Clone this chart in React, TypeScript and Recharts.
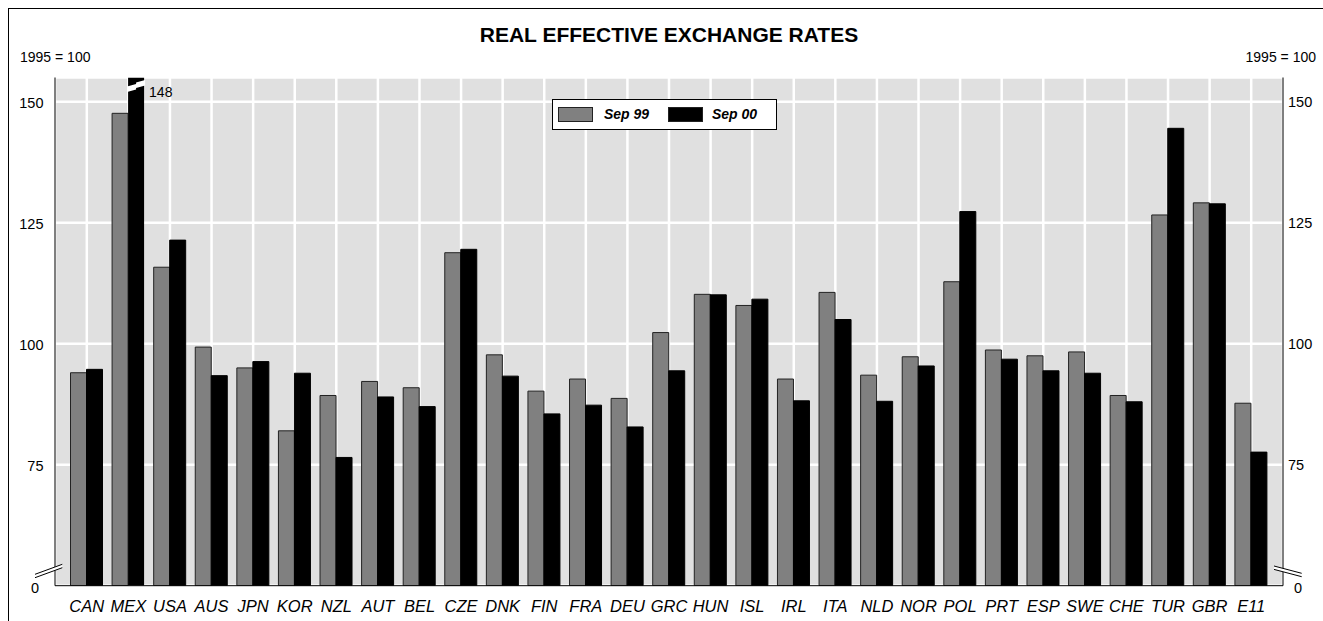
import { Bar, BarChart, CartesianGrid, Legend, Rectangle, XAxis, YAxis } from "recharts";

const COUNTRIES = [
  "CAN", "MEX", "USA", "AUS", "JPN", "KOR", "NZL", "AUT", "BEL", "CZE",
  "DNK", "FIN", "FRA", "DEU", "GRC", "HUN", "ISL", "IRL", "ITA", "NLD",
  "NOR", "POL", "PRT", "ESP", "SWE", "CHE", "TUR", "GBR", "E11",
];

const SEP_99 = [
  94.0, 147.6, 115.8, 99.3, 95.0, 82.0, 89.3, 92.2, 90.9, 118.8,
  97.7, 90.2, 92.7, 88.7, 102.3, 110.2, 107.9, 92.7, 110.6, 93.5,
  97.3, 112.8, 98.7, 97.5, 98.3, 89.3, 126.6, 129.1, 87.7,
];

const SEP_00 = [
  94.7, 148, 121.4, 93.4, 96.3, 93.9, 76.5, 89.0, 87.0, 119.5,
  93.3, 85.5, 87.3, 82.8, 94.4, 110.1, 109.2, 88.2, 105.0, 88.1,
  95.4, 127.3, 96.8, 94.4, 93.9, 88.0, 144.5, 128.9, 77.6,
];

const SERIES_NAMES = ["Sep 99", "Sep 00"];

// bars drawn with a scale break up to the top of the plot
const OFF_SCALE = ["MEX"];

const Y_DOMAIN = [50, 155];
const Y_TICKS = [50, 75, 100, 125, 150];

const data = COUNTRIES.map((country, i) => ({
  country,
  sep99: SEP_99[i],
  sep00: SEP_00[i],
}));

const FONT = "'Liberation Sans', Arial, Helvetica, sans-serif";
const NARROW = "'Liberation Sans Narrow', 'Arial Narrow', " + FONT;

function LeftTick({ x, y, payload }: any) {
  if (payload.value === 50) {
    const ax = x + 11.5;
    return (
      <g>
        <polygon
          points={`${ax - 20},${y - 11.4} ${ax + 7.3},${y - 21.4} ${ax + 7.3},${y - 18} ${ax - 20},${y - 8}`}
          fill="#fff"
        />
        <line x1={ax - 20} y1={y - 11.4} x2={ax + 7.3} y2={y - 21.4} stroke="#000" />
        <line x1={ax - 20} y1={y - 8} x2={ax + 7.3} y2={y - 18} stroke="#000" />
        <text x={x - 4.5} y={y + 7} textAnchor="end" fontSize={14.5} fontFamily={FONT} fill="#000">
          0
        </text>
      </g>
    );
  }
  return (
    <text x={x} y={y + 6.5} textAnchor="end" fontSize={14.5} fontFamily={FONT} fill="#000">
      {payload.value}
    </text>
  );
}

function RightTick({ x, y, payload }: any) {
  if (payload.value === 50) {
    const ax = x - 5;
    return (
      <g>
        <polygon
          points={`${ax - 9},${y - 19.7} ${ax + 18.7},${y - 12.4} ${ax + 18.7},${y - 9} ${ax - 9},${y - 16.3}`}
          fill="#fff"
        />
        <line x1={ax - 9} y1={y - 19.7} x2={ax + 18.7} y2={y - 12.4} stroke="#000" />
        <line x1={ax - 9} y1={y - 16.3} x2={ax + 18.7} y2={y - 9} stroke="#000" />
        <text x={x + 6} y={y + 7} textAnchor="start" fontSize={14.5} fontFamily={FONT} fill="#000">
          0
        </text>
      </g>
    );
  }
  return (
    <text x={x} y={y + 5} textAnchor="start" fontSize={14.5} fontFamily={FONT} fill="#000">
      {payload.value}
    </text>
  );
}

function CountryTick({ x, y, payload }: any) {
  return (
    <text
      x={x}
      y={y + 11.8}
      textAnchor="middle"
      fontSize={16.5}
      fontStyle="italic"
      fontFamily={NARROW}
      fill="#000"
    >
      {payload.value}
    </text>
  );
}

function Sep00Bar(props: any) {
  const { x, y, width, height, payload, background } = props;
  if (!OFF_SCALE.includes(payload.country)) return <Rectangle {...props} />;
  const top = background ? background.y : y;
  const bottom = y + height;
  const l = x;
  const r = x + width;
  const m = x + width / 2;
  return (
    <g>
      <rect x={l} y={top} width={width} height={bottom - top} fill="#000" />
      <polygon
        points={`${l - 1},${top + 9} ${m},${top + 6.5} ${m},${top + 5} ${r + 1},${top + 2.5} ${r + 1},${top + 8} ${m},${top + 10.5} ${m},${top + 12} ${l - 1},${top + 14.5}`}
        fill="#fff"
      />
      <text x={r + 5} y={top + 19.5} fontSize={14} fontFamily={FONT} fill="#000">
        {payload.sep00}
      </text>
    </g>
  );
}

function LegendBox({ payload }: any) {
  const items = [...(payload || [])].sort(
    (a: any, b: any) => SERIES_NAMES.indexOf(a.value) - SERIES_NAMES.indexOf(b.value)
  );
  return (
    <div
      style={{
        position: "relative",
        width: 225,
        height: 31,
        boxSizing: "border-box",
        border: "1px solid #000",
        background: "#fff",
        fontFamily: FONT,
      }}
    >
      {items.map((item: any, i: number) => (
        <div key={item.value}>
          <div
            style={{
              position: "absolute",
              left: 5 + i * 110,
              top: 7,
              width: 35,
              height: 15,
              boxSizing: "border-box",
              background: item.color,
              border: "1px solid #222",
            }}
          />
          <div
            style={{
              position: "absolute",
              left: 51 + i * 108,
              top: 6,
              fontSize: 14,
              lineHeight: "17px",
              fontWeight: "bold",
              fontStyle: "italic",
              color: "#000",
            }}
          >
            {item.value}
          </div>
        </div>
      ))}
    </div>
  );
}

export default function App() {
  return (
    <div
      style={{
        position: "relative",
        width: 1323,
        height: 621,
        overflow: "hidden",
        background: "#fff",
      }}
    >
      <style>{"html, body { margin: 0; padding: 0; overflow: hidden; }"}</style>
      <div
        style={{
          position: "absolute",
          left: 8,
          top: 8,
          width: 1315,
          height: 613,
          boxSizing: "border-box",
          border: "1px solid #000",
          borderBottom: "none",
          borderRight: "none",
          fontFamily: FONT,
        }}
      >
        <div
          style={{
            position: "absolute",
            left: 0,
            right: 0,
            top: 15,
            textAlign: "center",
            paddingLeft: 6,
            fontSize: 21,
            lineHeight: "21px",
            fontWeight: "bold",
            color: "#000",
          }}
        >
          REAL EFFECTIVE EXCHANGE RATES
        </div>
        <div style={{ position: "absolute", left: 11, top: 41, fontSize: 14, lineHeight: "14px" }}>
          1995 = 100
        </div>
        <div style={{ position: "absolute", right: 7, top: 41, fontSize: 14, lineHeight: "14px" }}>
          1995 = 100
        </div>
        <div style={{ position: "absolute", left: 0, top: 0 }}>
          <BarChart
            width={1313}
            height={612}
            data={data}
            margin={{ top: 68.5, right: 0, bottom: 0, left: 0 }}
            barCategoryGap={4.5}
            barGap={0}
          >
            <CartesianGrid
              yAxisId="left"
              fill="#e0e0e0"
              fillOpacity={1}
              stroke="#fff"
              strokeWidth={2.5}
            />
            <XAxis
              dataKey="country"
              height={35.3}
              interval={0}
              padding={{ left: 11, right: 11 }}
              axisLine={{ stroke: "#000" }}
              tickLine={false}
              tickSize={0}
              tickMargin={14.3}
              tick={<CountryTick />}
            />
            <XAxis
              xAxisId="top"
              orientation="top"
              dataKey="country"
              height={0}
              padding={{ left: 11, right: 11 }}
              axisLine={{ stroke: "#000" }}
              tickLine={false}
              tick={false}
            />
            <YAxis
              yAxisId="left"
              type="number"
              domain={Y_DOMAIN}
              ticks={Y_TICKS}
              allowDataOverflow
              width={46}
              axisLine={{ stroke: "#000" }}
              tickLine={false}
              tickSize={0}
              tickMargin={11.5}
              tick={<LeftTick />}
            />
            <YAxis
              yAxisId="right"
              orientation="right"
              type="number"
              domain={Y_DOMAIN}
              ticks={Y_TICKS}
              allowDataOverflow
              width={39}
              axisLine={{ stroke: "#000" }}
              tickLine={false}
              tickSize={0}
              tickMargin={5}
              tick={<RightTick />}
            />
            <Legend
              layout="horizontal"
              verticalAlign="middle"
              align="center"
              wrapperStyle={{ position: "absolute", left: 543, top: 90, width: 225, height: 31 }}
              content={<LegendBox />}
            />
            <Bar
              yAxisId="left"
              dataKey="sep99"
              name={SERIES_NAMES[0]}
              fill="#808080"
              stroke="#222"
              strokeWidth={1}
              isAnimationActive={false}
            />
            <Bar
              yAxisId="left"
              dataKey="sep00"
              name={SERIES_NAMES[1]}
              fill="#000"
              stroke="#000"
              strokeWidth={1}
              shape={Sep00Bar}
              isAnimationActive={false}
            />
          </BarChart>
        </div>
      </div>
    </div>
  );
}
